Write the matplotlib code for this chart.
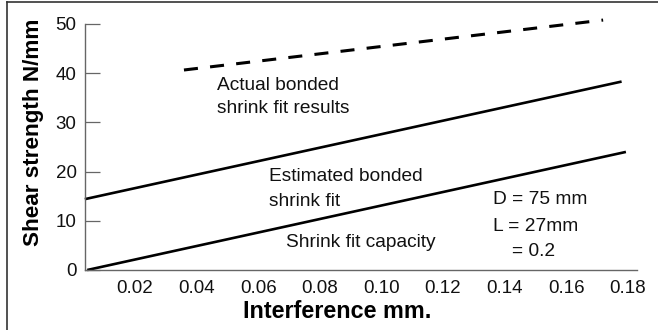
import matplotlib
matplotlib.use("Agg")
import matplotlib.pyplot as plt
from matplotlib.lines import Line2D

plt.rcParams['font.family'] = ['Liberation Sans', 'DejaVu Sans']

# Data
capacity_x = [0.0045, 0.1794]
capacity_y = [0.0, 24.0]
estimated_x = [0.0037, 0.178]
estimated_y = [14.4, 38.3]
actual_x = [0.0359, 0.172]
actual_y = [40.65, 50.8]

xticks = [0.02, 0.04, 0.06, 0.08, 0.10, 0.12, 0.14, 0.16, 0.18]
xtick_labels = ["0.02", "0.04", "0.06", "0.08", "0.10", "0.12", "0.14", "0.16", "0.18"]
yticks = [0, 10, 20, 30, 40, 50]
ytick_labels = ["0", "10", "20", "30", "40", "50"]

annotations = [
    ("Actual bonded", 0.0466, 36.6),
    ("shrink fit results", 0.0466, 31.9),
    ("Estimated bonded", 0.0635, 18.1),
    ("shrink fit", 0.0635, 13.0),
    ("Shrink fit capacity", 0.069, 4.7),
    ("D = 75 mm", 0.1362, 13.4),
    ("L = 27mm", 0.1362, 7.9),
    ("= 0.2", 0.1424, 2.85),
]

W, H = 658, 330
fig = plt.figure(figsize=(W / 100, H / 100), dpi=100)
ax = fig.add_axes([85 / W, 1 - 270 / H, (637 - 85) / W, (270 - 24) / H])

ax.plot(capacity_x, capacity_y, color='black', lw=1.9, solid_capstyle='butt', clip_on=False)
ax.plot(estimated_x, estimated_y, color='black', lw=1.9, solid_capstyle='butt', clip_on=False)
ax.plot(actual_x, actual_y, color='black', lw=2.2, ls=(0, (4.6, 4.0)), dash_capstyle='butt', clip_on=False)

ax.set_xlim(0.00377, 0.183)
ax.set_ylim(0, 50)
ax.set_xticks(xticks)
ax.set_xticklabels(xtick_labels)
ax.set_yticks(yticks)
ax.set_yticklabels(ytick_labels)

for s in ['top', 'right']:
    ax.spines[s].set_visible(False)
for s in ['left', 'bottom']:
    ax.spines[s].set_color('#666666')
    ax.spines[s].set_linewidth(1.0)

ax.tick_params(axis='y', direction='in', length=11, width=0.9, color='#666666',
               labelsize=13.5, pad=6, labelcolor='#111111')
ax.tick_params(axis='x', length=0, labelsize=13.5, pad=7.5, labelcolor='#111111')

for txt, x, y in annotations:
    ax.text(x, y, txt, fontsize=13.8, ha='left', va='baseline', color='#111111')

ax.set_xlabel("Interference mm.", fontsize=16.8, fontweight='bold', va='baseline', ha='center')
ax.xaxis.set_label_coords((337.5 - 85) / 552, (270 - 318) / 246)
ax.set_ylabel("Shear strength N/mm", fontsize=16.2, fontweight='bold', va='center', ha='center')
ax.yaxis.set_label_coords((34 - 85) / 552, (270 - 132.5) / 246)

# outer frame (left and top edges)
fig.add_artist(Line2D([7 / W, 7 / W], [0, 1 - 2 / H], color='#333333', lw=1.2, transform=fig.transFigure))
fig.add_artist(Line2D([7 / W, 1], [1 - 2 / H, 1 - 2 / H], color='#333333', lw=1.2, transform=fig.transFigure))

fig.savefig("out.png", dpi=100)
